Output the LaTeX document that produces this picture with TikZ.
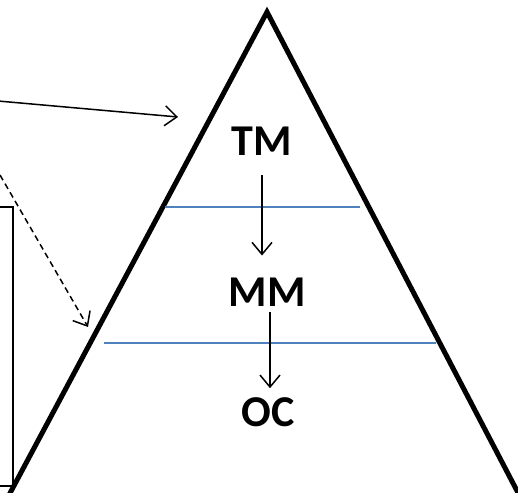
\documentclass[tikz,border=0pt]{standalone}
\usepackage{fontspec}
\setmainfont{Carlito}
\usetikzlibrary{arrows.meta,positioning}
\definecolor{lineblue}{RGB}{79,129,189}
\tikzset{
  level/.style={font=\fontsize{44}{52}\selectfont\bfseries, inner sep=0pt},
  arr/.style={line width=1.5pt, -{Straight Barb[length=12pt,width=20pt]}},
  divider/.style={draw=lineblue, line width=1.6pt},
}

\begin{document}
\begin{tikzpicture}[x=1pt,y=-1pt]
	\useasboundingbox (0,0) rectangle (518,492);
	% pyramid and its levels
	\draw[line width=5pt, line join=miter] (1,510) -- (267,12) -- (527,510);
	\draw[divider] (165,207) -- (360,207);
	\draw[divider] (104,343) -- (436,343);
	\node[level] (TM) at (262,141) {TM};
	\node[level] (MM) at (267,292) {MM};
	\node[level] (OC) at (268,412) {OC};
	\draw[arr, shorten <=20pt, shorten >=22pt] (TM.south) -- (TM.south |- MM.north);
	\draw[arr, shorten <=6pt, shorten >=9pt] ([xshift=3pt]MM.south) -- ([xshift=3pt]MM.south |- OC.north);

	% box at the left edge and its pointers
	\draw[line width=1.2pt] (-5,207) rectangle (13,486);
	\coordinate (src1) at (-2,101);
	\coordinate (tgt1) at (178,117);
	\coordinate (src2) at (0,175);
	\coordinate (tgt2) at (88,327);
	\draw[arr] (src1) -- (tgt1);
	\draw[arr, dash pattern=on 6pt off 4pt] (src2) -- (tgt2);
\end{tikzpicture}
\end{document}
